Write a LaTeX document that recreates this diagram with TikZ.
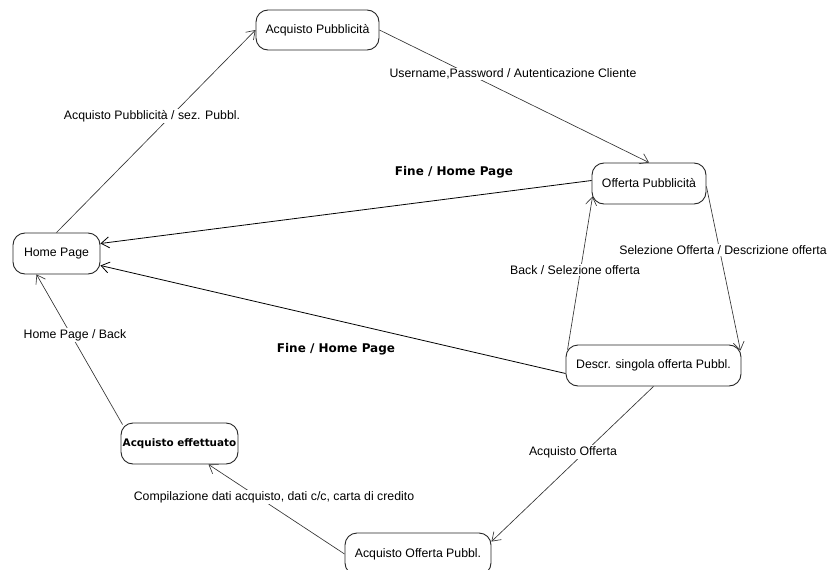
\documentclass[tikz,border=0pt]{standalone}
\usepackage{fontspec}
\setmainfont{Liberation Sans}
\newfontfamily\boldlabelfont{DejaVu Sans Bold}
\usetikzlibrary{arrows.meta}

\tikzset{
  state/.style={draw=black!85, line width=0.9pt, rounded corners=12pt,
    inner sep=0pt, align=center, font=\fontsize{12.3}{14}\selectfont},
  trans/.style={draw=black!80, line width=0.65pt,
    -{Straight Barb[length=8pt,width=11pt]}},
  heavy/.style={trans, draw=black, line width=0.8pt},
  lbl/.style={fill=white, inner sep=1pt, font=\fontsize{12.3}{14}\selectfont},
  blbl/.style={inner sep=1pt, font=\boldlabelfont\fontsize{12}{14}\selectfont}
}

\begin{document}
\begin{tikzpicture}[x=1pt,y=-1pt]
  \useasboundingbox (0,0) rectangle (831,570);

  % states
  \node[state, minimum width=123pt, minimum height=40pt] (ap)  at (317.5,30)  {Acquisto Pubblicità};
  \node[state, minimum width=87pt,  minimum height=41pt] (hp)  at (56.5,253.5) {Home Page};
  \node[state, minimum width=114pt, minimum height=41pt] (op)  at (649,183.5) {Offerta Pubblicità};
  \node[state, minimum width=175pt, minimum height=41pt] (ds)  at (653.5,365.5) {Descr. singola offerta Pubbl.};
  \node[state, minimum width=117pt, minimum height=41pt,
        font=\boldlabelfont\fontsize{10.4}{12}\selectfont] (ae) at (179.5,443.5) {Acquisto effettuato};
  \node[state, minimum width=146pt, minimum height=42pt] (aop) at (418,554)   {Acquisto Offerta Pubbl.};

  % transitions
  \draw[trans] (hp.north) -- (ap.west);
  \draw[trans] (ap.east) -- (op.north);
  \draw[heavy] ([yshift=3pt]op.west) -- ([yshift=10pt]hp.east);
  \draw[heavy] ([yshift=-8pt]ds.west) -- ([yshift=-12pt]hp.east);
  \draw[trans] ([yshift=-3pt]op.east) -- ([xshift=-1pt,yshift=-6pt]ds.north east);
  \draw[trans] ([xshift=2pt,yshift=-5pt]ds.north west) -- ([xshift=1pt,yshift=8pt]op.south west);
  \draw[trans] (ds.south) -- ([yshift=-9pt]aop.north east);
  \draw[trans] (aop.west) -- ([xshift=29pt]ae.south);
  \draw[trans] ([xshift=2pt,yshift=-2pt]ae.north west) -- ([xshift=-20pt]hp.south);

  % transition labels
  \node[lbl] (l1) at (152,116) {Acquisto Pubblicità / sez. Pubbl.};
  \node[lbl] (l2) at (513,74)  {Username,Password / Autenticazione Cliente};
  \node[blbl] (l3) at (454,172) {Fine / Home Page};
  \node[blbl] (l4) at (336,349) {Fine / Home Page};
  \node[lbl] (l5) at (723,250) {Selezione Offerta / Descrizione offerta};
  \node[lbl] (l6) at (575,270) {Back / Selezione offerta};
  \node[lbl] (l7) at (573,452) {Acquisto Offerta};
  \node[lbl] (l8) at (274,497) {Compilazione dati acquisto, dati c/c, carta di credito};
  \node[lbl] (l9) at (75,335)  {Home Page / Back};
\end{tikzpicture}
\end{document}
